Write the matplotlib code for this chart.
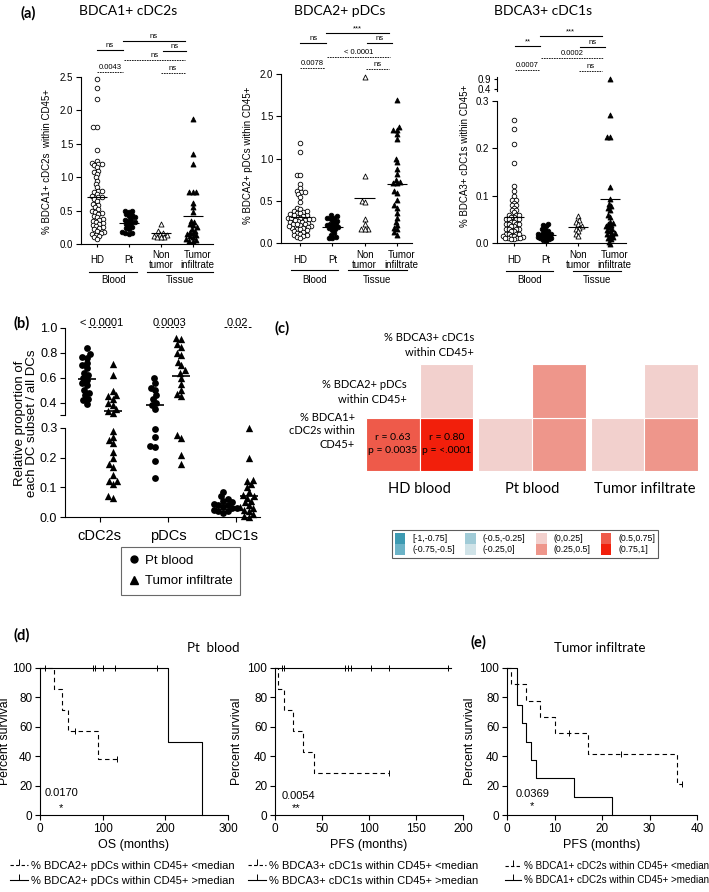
import numpy as np
import matplotlib
matplotlib.use("Agg")
import matplotlib.pyplot as plt
from matplotlib import transforms
from matplotlib.patches import Rectangle, Patch
from matplotlib.lines import Line2D

plt.rcParams["font.family"] = ["Liberation Sans", "DejaVu Sans"]
HF = "Lato"   # header / panel-letter font

# ── Data: panel (a) ────────────────────────────────────────────────────────────
a_cats = ["HD", "Pt", "Non\ntumor", "Tumor\ninfiltrate"]

a1_hd = [2.47, 2.33, 2.17, 1.75, 1.75, 1.40, 1.25, 1.22, 1.20, 1.20, 1.18, 1.15, 1.10,
         1.08, 1.05, 1.00, 0.95, 0.90, 0.85, 0.80, 0.80, 0.78, 0.75, 0.72, 0.70, 0.70,
         0.68, 0.65, 0.60, 0.58, 0.55, 0.52, 0.50, 0.48, 0.46, 0.45, 0.42, 0.40, 0.38,
         0.36, 0.35, 0.33, 0.32, 0.30, 0.28, 0.27, 0.25, 0.24, 0.22, 0.20, 0.18, 0.17,
         0.15, 0.14, 0.12, 0.10, 0.08]
a1_pt = [0.50, 0.50, 0.48, 0.45, 0.44, 0.42, 0.40, 0.38, 0.36, 0.35, 0.33, 0.32, 0.30,
         0.28, 0.25, 0.24, 0.22, 0.18, 0.16, 0.16, 0.15]
a1_non = [0.30, 0.20, 0.17, 0.15, 0.14, 0.12, 0.11, 0.10, 0.10]
a1_tum = [1.87, 1.35, 1.20, 0.78, 0.78, 0.78, 0.62, 0.55, 0.48, 0.35, 0.33, 0.30, 0.28,
          0.25, 0.22, 0.20, 0.18, 0.16, 0.15, 0.13, 0.12, 0.10, 0.08, 0.06, 0.05, 0.04]
a1_mean = [0.71, 0.32, 0.16, 0.42]
a1_lbl = ["ns", "ns", "ns", "ns", "0.0043", "ns"]

a2_hd = [1.18, 1.08, 0.81, 0.81, 0.70, 0.65, 0.62, 0.60, 0.60, 0.58, 0.55, 0.48, 0.42,
         0.40, 0.38, 0.37, 0.36, 0.35, 0.34, 0.33, 0.32, 0.31, 0.30, 0.30, 0.29, 0.28,
         0.27, 0.26, 0.25, 0.25, 0.24, 0.23, 0.22, 0.21, 0.20, 0.19, 0.18, 0.18, 0.17,
         0.16, 0.15, 0.14, 0.13, 0.12, 0.11, 0.10, 0.09, 0.08, 0.07, 0.06, 0.20, 0.27,
         0.33, 0.38, 0.22, 0.28]
a2_pt = [0.33, 0.32, 0.30, 0.30, 0.28, 0.26, 0.25, 0.23, 0.22, 0.21, 0.20, 0.19, 0.18,
         0.17, 0.15, 0.12, 0.10, 0.07, 0.06, 0.06]
a2_non = [1.97, 0.79, 0.50, 0.48, 0.28, 0.22, 0.17, 0.16, 0.16]
a2_tum = [1.69, 1.37, 1.34, 1.34, 1.29, 1.23, 1.00, 0.96, 0.87, 0.82, 0.75, 0.72, 0.71,
          0.71, 0.62, 0.59, 0.51, 0.45, 0.42, 0.35, 0.30, 0.25, 0.21, 0.18, 0.16, 0.13,
          0.10]
a2_mean = [0.31, 0.19, 0.53, 0.70]
a2_lbl = ["ns", "***", "ns", "< 0.0001", "0.0078", "ns"]

a3_hd = [0.26, 0.24, 0.21, 0.17, 0.12, 0.11, 0.10, 0.09, 0.09, 0.085, 0.08, 0.08, 0.075,
         0.07, 0.07, 0.065, 0.06, 0.06, 0.06, 0.055, 0.055, 0.05, 0.05, 0.05, 0.05,
         0.045, 0.045, 0.04, 0.04, 0.04, 0.04, 0.035, 0.035, 0.03, 0.03, 0.03, 0.03,
         0.025, 0.025, 0.02, 0.02, 0.02, 0.02, 0.015, 0.015, 0.015, 0.012, 0.01, 0.01,
         0.01, 0.01, 0.008, 0.008]
a3_pt = [0.04, 0.038, 0.035, 0.03, 0.028, 0.025, 0.022, 0.02, 0.02, 0.018, 0.017, 0.015,
         0.015, 0.013, 0.012, 0.01, 0.01, 0.008, 0.007, 0.005]
a3_non = [0.056, 0.048, 0.045, 0.04, 0.035, 0.032, 0.03, 0.025, 0.02, 0.015]
a3_tum = [0.90, 0.27, 0.225, 0.225, 0.118, 0.093, 0.083, 0.078, 0.075, 0.07, 0.06, 0.055,
          0.045, 0.043, 0.04, 0.038, 0.035, 0.033, 0.03, 0.028, 0.025, 0.022, 0.02,
          0.018, 0.015, 0.012, 0.01, 0.008, 0.003, -0.003]
a3_mean = [0.055, 0.017, 0.033, 0.094]
a3_lbl = ["**", "***", "ns", "0.0002", "0.0007", "ns"]

# ── Data: panel (b) ────────────────────────────────────────────────────────────
b_cats = ["cDC2s", "pDCs", "cDC1s"]
b_pt = [
    [0.84, 0.79, 0.77, 0.76, 0.72, 0.70, 0.68, 0.64, 0.62, 0.60, 0.58, 0.56, 0.54, 0.50,
     0.48, 0.46, 0.43, 0.42, 0.39],
    [0.60, 0.56, 0.52, 0.50, 0.46, 0.43, 0.40, 0.38, 0.35, 0.295, 0.27, 0.24, 0.235,
     0.19, 0.13],
    [0.085, 0.07, 0.06, 0.055, 0.05, 0.045, 0.04, 0.04, 0.035, 0.03, 0.03, 0.025, 0.02,
     0.02, 0.015],
]
b_tum = [
    [0.71, 0.62, 0.49, 0.46, 0.45, 0.43, 0.40, 0.38, 0.35, 0.33, 0.32, 0.29, 0.27, 0.26,
     0.25, 0.22, 0.20, 0.18, 0.17, 0.14, 0.12, 0.12, 0.11, 0.07, 0.065],
    [0.92, 0.91, 0.87, 0.85, 0.80, 0.78, 0.73, 0.70, 0.66, 0.64, 0.60, 0.55, 0.50, 0.47,
     0.45, 0.277, 0.265, 0.21, 0.18],
    [0.30, 0.20, 0.125, 0.12, 0.11, 0.10, 0.085, 0.075, 0.07, 0.065, 0.055, 0.05, 0.04,
     0.035, 0.03, 0.025, 0.02, 0.01, 0.005, 0.0],
]
b_pt_mean = [0.59, 0.38, 0.04]
b_tum_mean = [0.33, 0.61, 0.07]
b_p = ["< 0.0001", "0.0003", "0.02"]

# ── Data: panel (c) ────────────────────────────────────────────────────────────
hm_groups = ["HD blood", "Pt blood", "Tumor infiltrate"]
# r for (cDC2s vs pDCs, cDC2s vs cDC1s, pDCs vs cDC1s)
hm_r = [[0.63, 0.80, 0.20], [0.15, 0.40, 0.40], [0.15, 0.40, 0.15]]
hm_text = [["r = 0.63\np = 0.0035", "r = 0.80\np = <.0001", ""], ["", "", ""], ["", "", ""]]
bin_edges = [-1, -0.75, -0.5, -0.25, 0, 0.25, 0.5, 0.75, 1]
bin_labels = ["[-1,-0.75]", "(-0.75,-0.5]", "(-0.5,-0.25]", "(-0.25,0]",
              "(0,0.25]", "(0.25,0.5]", "(0.5,0.75]", "(0.75,1]"]
bin_colors = ["#3d9ab2", "#6cb3c7", "#a0cbd7", "#d0e3e8",
              "#f2d0cd", "#ee968b", "#ee5a4a", "#f21f0b"]

# ── Data: panels (d) and (e), Kaplan-Meier steps ─────────────────────────────
d1_lo_t = [0, 22, 35, 45, 93, 123]
d1_lo_s = [100, 85.7, 71.4, 57.1, 38.1, 38.1]
d1_lo_c = [56, 123]
d1_hi_t = [0, 205, 258]
d1_hi_s = [100, 50, 0]
d1_hi_c = [8, 85, 88, 101, 120, 186]

d2_lo_t = [0, 3, 10, 19, 30, 41, 121]
d2_lo_s = [100, 85.7, 71.4, 57.1, 42.9, 28.6, 28.6]
d2_lo_c = [121]
d2_hi_t = [0, 187]
d2_hi_s = [100, 100]
d2_hi_c = [7, 10, 74, 78, 81, 102, 121, 184]

e_lo_t = [0, 0.9, 4.1, 6.9, 10, 17, 35.8, 36.8]
e_lo_s = [100, 88.9, 77.8, 66.7, 55.6, 41.7, 20.8, 20.8]
e_lo_c = [13, 24, 36.8]
e_hi_t = [0, 2.1, 3.2, 4.1, 5.05, 6.0, 14, 22]
e_hi_s = [100, 75, 62.5, 50, 37.5, 25, 12.5, 0]
e_hi_c = []

# ── Figure helpers ─────────────────────────────────────────────────────────────
W, H = 709, 892
fig = plt.figure(figsize=(W / 100, H / 100), dpi=100, facecolor="white")


def fy(py):
    return 1 - py / H


def fx(px):
    return px / W


def add_ax(l, t, r, b):
    return fig.add_axes([l / W, 1 - b / H, (r - l) / W, (b - t) / H])


def blend(ax):
    return transforms.blended_transform_factory(ax.transData, fig.transFigure)


def swarm(vals, xsc, ysc, d):
    """Deterministic beeswarm offsets (data units), xsc/ysc in px per unit."""
    vals = np.asarray(vals, float)
    off = np.zeros(len(vals))
    placed = []
    for i in np.argsort(vals):
        y = vals[i] * ysc
        ivs = []
        for px, py in placed:
            dy = abs(y - py)
            if dy < d:
                w = np.sqrt(d * d - dy * dy)
                ivs.append((px - w, px + w))
        cands = sorted([0.0] + [e for iv in ivs for e in iv], key=abs)
        for c in cands:
            if all(not (lo + 1e-6 < c < hi - 1e-6) for lo, hi in ivs):
                break
        placed.append((c, y))
        off[i] = c
    return off / xsc


def px_scale(ax):
    bb = ax.get_position()
    x0, x1 = ax.get_xlim()
    y0, y1 = ax.get_ylim()
    return bb.width * W / (x1 - x0), bb.height * H / (y1 - y0)


def style(ax, left=True, bottom=True):
    for s in ["top", "right"]:
        ax.spines[s].set_visible(False)
    ax.spines["left"].set_visible(left)
    ax.spines["bottom"].set_visible(bottom)
    for s in ax.spines.values():
        s.set_linewidth(0.8)
    ax.tick_params(direction="out", width=0.8, length=3.5, pad=2)
    ax.set_facecolor("none")


# ── Panel (a) ─────────────────────────────────────────────────────────────────
a_styles = [("o", "white", 11), ("o", "black", 11), ("^", "white", 13), ("^", "black", 13)]


def dot_groups(ax, groups, means, lo=-np.inf, hi=np.inf, d=3.6, mean_w=0.32):
    xsc, ysc = px_scale(ax)
    for i, (vals, (mk, fc, sz)) in enumerate(zip(groups, a_styles)):
        v = np.array([x for x in vals if lo <= x <= hi])
        if len(v) == 0:
            continue
        xs = i + swarm(v, xsc, ysc, d)
        ax.scatter(xs, v, marker=mk, s=sz, facecolor=fc, edgecolor="black",
                   linewidth=0.6, clip_on=False, zorder=3)
    for i, m in enumerate(means):
        if lo <= m <= hi:
            ax.hlines(m, i - mean_w, i + mean_w, color="black", lw=0.8, zorder=4)


def brackets(ax, labels, xs, ys, dashed):
    tr = blend(ax)
    for lbl, (x0, x1), y, dsh in zip(labels, xs, ys, dashed):
        ax.plot([x0, x1], [fy(y), fy(y)], transform=tr, color="black", clip_on=False,
                lw=0.6 if dsh else 0.8, ls=(0, (2, 1)) if dsh else "-")
        ax.text((x0 + x1) / 2, fy(y - 0.8), lbl, transform=tr, ha="center", va="bottom",
                fontsize=5.5)


def cat_labels(ax, blood_x, tissue_x, line_y):
    tr = blend(ax)
    for i, c in enumerate(a_cats):
        ax.text(i + (0.15 if i == 3 else 0), fy(260), c, transform=tr, ha="center",
                va="center", fontsize=7, linespacing=1.1)
    for (x0, x1), name in [(blood_x, "Blood"), (tissue_x, "Tissue")]:
        ax.plot([x0, x1], [fy(line_y), fy(line_y)], transform=tr, color="black",
                lw=0.8, clip_on=False)
        ax.text((x0 + x1) / 2, fy(280), name, transform=tr, ha="center", va="center",
                fontsize=7)


sig_dashed = [False, False, False, True, True, True]

# a1
ax1 = add_ax(81, 77, 213, 244)
ax1.set_xlim(-0.5, 3.63)
ax1.set_ylim(0, 2.5)
style(ax1)
ax1.set_yticks(np.arange(0, 2.51, 0.5))
ax1.set_yticklabels([f"{v:.1f}" for v in np.arange(0, 2.51, 0.5)], fontsize=7)
ax1.set_xticks(range(4))
ax1.set_xticklabels([])
ax1.tick_params(axis="x", length=2.5)
dot_groups(ax1, [a1_hd, a1_pt, a1_non, a1_tum], a1_mean)
brackets(ax1, a1_lbl, [(0, 0.8), (0.8, 2.75), (2.05, 2.8), (0.85, 2.75), (0, 0.8), (2.0, 2.75)],
         [50, 41, 51, 60, 72, 73], sig_dashed)
cat_labels(ax1, (-0.24, 1.26), (1.57, 3.63), 272)
fig.text(fx(47), fy(162), "% BDCA1+ cDC2s  within CD45+", rotation=90, ha="center",
         va="center", fontsize=7)
fig.text(fx(128), fy(11), "BDCA1+ cDC2s", family=HF, fontsize=10, ha="center", va="center")
fig.text(fx(28), fy(13), "(a)", family=HF, fontsize=10.5, weight="bold", ha="center", va="center")

# a2
ax2 = add_ax(281, 74, 412, 243)
ax2.set_xlim(-0.6, 3.47)
ax2.set_ylim(0, 2.0)
style(ax2)
ax2.set_yticks(np.arange(0, 2.01, 0.5))
ax2.set_yticklabels([f"{v:.1f}" for v in np.arange(0, 2.01, 0.5)], fontsize=7)
ax2.set_xticks(range(4))
ax2.set_xticklabels([])
ax2.tick_params(axis="x", length=2.5)
dot_groups(ax2, [a2_hd, a2_pt, a2_non, a2_tum], a2_mean)
brackets(ax2, a2_lbl, [(0, 0.8), (0.8, 2.74), (2.07, 2.86), (0.82, 2.79), (0, 0.77), (2.05, 2.74)],
         [43, 33, 43, 57, 68, 69], sig_dashed)
cat_labels(ax2, (-0.28, 1.18), (1.49, 3.3), 270)
fig.text(fx(248), fy(155), "% BDCA2+ pDCs within CD45+", rotation=90, ha="center",
         va="center", fontsize=7)
fig.text(fx(340), fy(11), "BDCA2+ pDCs", family=HF, fontsize=10, ha="center", va="center")

# a3 (broken axis)
ax3 = add_ax(497, 101, 626, 243)
ax3.set_xlim(-0.53, 3.5)
ax3.set_ylim(0, 0.3)
style(ax3)
ax3.set_yticks([0, 0.1, 0.2, 0.3])
ax3.set_yticklabels(["0.0", "0.1", "0.2", "0.3"], fontsize=7)
ax3.set_xticks(range(4))
ax3.set_xticklabels([])
ax3.tick_params(axis="x", length=2.5)
dot_groups(ax3, [a3_hd, a3_pt, a3_non, a3_tum], a3_mean, hi=0.3, d=3.0)
ax3u = add_ax(497, 77, 626, 91)
ax3u.set_xlim(-0.53, 3.5)
ax3u.set_ylim(0.3, 1.0)
style(ax3u, bottom=False)
ax3u.set_xticks([])
ax3u.set_yticks([0.4, 0.9])
ax3u.set_yticklabels(["0.4", "0.9"], fontsize=7)
ax3u.tick_params(axis="y", length=2.5, pad=1.5)
dot_groups(ax3u, [a3_hd, a3_pt, a3_non, a3_tum], [], lo=0.35, d=3.0)
brackets(ax3, a3_lbl, [(0.03, 0.81), (0.81, 2.74), (2.06, 2.84), (0.86, 2.77), (0.03, 0.78), (2.03, 2.74)],
         [46, 36, 47, 58, 70, 71], sig_dashed)
cat_labels(ax3, (-0.25, 1.22), (1.84, 3.33), 271)
fig.text(fx(465), fy(156), "% BDCA3+ cDC1s within CD45+", rotation=90, ha="center",
         va="center", fontsize=7)
fig.text(fx(543), fy(11), "BDCA3+ cDC1s", family=HF, fontsize=10, ha="center", va="center")

# ── Panel (b) ─────────────────────────────────────────────────────────────────
bu = add_ax(65, 328, 260, 415)
bl = add_ax(65, 428, 260, 517)
for ax, lim in [(bu, (0.3, 1.0)), (bl, (0, 0.3))]:
    ax.set_xlim(-0.51, 2.35)
    ax.set_ylim(*lim)
style(bu, bottom=False)
style(bl)
bu.set_xticks([])
bu.set_yticks([0.3, 0.4, 0.6, 0.8, 1.0])
bu.set_yticklabels(["", "0.4", "0.6", "0.8", "1.0"], fontsize=9)
bl.set_yticks([0, 0.1, 0.2, 0.3])
bl.set_yticklabels(["0.0", "0.1", "0.2", "0.3"], fontsize=9)
bl.set_xticks(range(3))
bl.set_xticklabels(b_cats, fontsize=10.5)
bl.tick_params(axis="x", pad=5)

b_off = 0.19
for ax, lo, hi in [(bu, 0.305, 1.0), (bl, -0.01, 0.3)]:
    xsc, ysc = px_scale(ax)
    for i in range(3):
        for vals, mean, sgn, mk, sz in [(b_pt[i], b_pt_mean[i], -1, "o", 24),
                                         (b_tum[i], b_tum_mean[i], 1, "^", 28)]:
            v = np.array([x for x in vals if lo <= x <= hi])
            if len(v):
                xs = i + sgn * b_off + swarm(v, xsc, ysc, 5.0)
                ax.scatter(xs, v, marker=mk, s=sz, color="black", lw=0, clip_on=False, zorder=3)
            if lo <= mean <= hi:
                ax.hlines(mean, i + sgn * b_off - 0.13, i + sgn * b_off + 0.13,
                          color="black", lw=1.2, zorder=4)

trb = blend(bl)
for i, p in enumerate(b_p):
    bl.plot([i - 0.18, i + 0.22], [fy(327), fy(327)], transform=trb, color="black",
            lw=0.7, ls=(0, (3, 2)), clip_on=False)
    bl.text(i + 0.02, fy(328), p, transform=trb, ha="center", va="bottom", fontsize=8)
fig.text(fx(26), fy(423), "Relative proportion of\neach DC subset / all DCs", rotation=90,
         ha="center", va="center", fontsize=9.5, linespacing=1.05)
fig.text(fx(22), fy(323), "(b)", family=HF, fontsize=10.5, weight="bold", ha="center", va="center")
b_handles = [Line2D([], [], ls="none", marker="o", ms=5, color="black"),
             Line2D([], [], ls="none", marker="^", ms=5.5, color="black")]
fig.legend(b_handles, ["Pt blood", "Tumor infiltrate"], loc="center",
           bbox_to_anchor=(fx(180.5), fy(571)), fontsize=9.5, frameon=True, fancybox=False,
           edgecolor="#444444", handlelength=0.8, handletextpad=0.4, borderpad=0.6,
           labelspacing=0.6).get_frame().set_linewidth(0.8)

# ── Panel (c) ─────────────────────────────────────────────────────────────────
axc = add_ax(366, 364, 698, 471)
axc.set_xlim(0, 6.2)
axc.set_ylim(0, 2)
axc.axis("off")
cell_pos = [(0, 0), (1, 0), (1, 1)]
for g, name in enumerate(hm_groups):
    gx = g * 2.1
    for k, (cx, cy) in enumerate(cell_pos):
        r = hm_r[g][k]
        col = bin_colors[min(np.searchsorted(bin_edges, r, side="left") - 1, 7)]
        axc.add_patch(Rectangle((gx + cx, cy), 1, 1, facecolor=col, edgecolor="white", lw=0.8))
        if hm_text[g][k]:
            axc.text(gx + cx + 0.5, cy + 0.5, hm_text[g][k], ha="center", va="center",
                     family=HF, fontsize=7.5, linespacing=1.5)
    axc.text(gx + 1, fy(489), name, transform=blend(axc), ha="center", va="center",
             family=HF, fontsize=10.5)
fig.text(fx(474), fy(345), "% BDCA3+ cDC1s\nwithin CD45+", ha="right", va="center",
         family=HF, fontsize=8, multialignment="right", linespacing=1.35)
fig.text(fx(407), fy(392), "% BDCA2+ pDCs\nwithin CD45+", ha="right", va="center",
         family=HF, fontsize=8, multialignment="right", linespacing=1.35)
fig.text(fx(355), fy(431), "% BDCA1+\ncDC2s within\nCD45+", ha="right", va="center",
         family=HF, fontsize=8, multialignment="right", linespacing=1.3)
fig.text(fx(282), fy(328), "(c)", family=HF, fontsize=10.5, weight="bold", ha="center", va="center")
c_handles = [Patch(facecolor=c, edgecolor="none") for c in bin_colors]
leg_c = fig.legend(c_handles, bin_labels, loc="center", bbox_to_anchor=(fx(525), fy(544)),
                   ncol=4, fontsize=6.3, frameon=True, fancybox=False, edgecolor="#333333",
                   handlelength=1.2, handleheight=1.55, handletextpad=0.8, labelspacing=0,
                   columnspacing=1.2, borderpad=0.35)
leg_c.get_frame().set_linewidth(0.8)


# ── Panels (d) and (e) ────────────────────────────────────────────────────────
def km(ax, t, s, cens, dashed):
    ls = (0, (4, 3)) if dashed else "-"
    ax.step(t, s, where="post", color="black", lw=0.8, ls=ls, clip_on=False)
    if cens:
        cs = [s[np.searchsorted(t, c, side="right") - 1] for c in cens]
        ax.plot(cens, cs, ls="none", marker="|", ms=4, mew=0.7, color="black", clip_on=False)


def km_axes(l, r, xmax, xstep, xlabel, lab_px):
    ax = add_ax(l, 668, r, 815)
    ax.set_xlim(0, xmax)
    ax.set_ylim(0, 100)
    style(ax)
    ax.set_xticks(np.arange(0, xmax + 1, xstep))
    ax.set_yticks(np.arange(0, 101, 20))
    ax.tick_params(labelsize=8.5)
    ax.set_xlabel(xlabel, fontsize=9, labelpad=3)
    ax.set_ylabel("Percent survival", fontsize=8.8)
    ax.yaxis.set_label_coords((lab_px - l) / (r - l), 0.5)
    return ax


def km_legend(ax, name, x0, fs):
    hs = [Line2D([], [], color="black", lw=0.8, ls=(0, (3, 2)), marker=2, ms=4, mew=0.7),
          Line2D([], [], color="black", lw=0.8, ls="-", marker=2, ms=4, mew=0.7)]
    ax.legend(hs, [f"% {name} within CD45+ <median", f"% {name} within CD45+ >median"],
              loc="upper left", bbox_to_anchor=(fx(x0), fy(861)), bbox_transform=fig.transFigure,
              frameon=False, fontsize=fs, handlelength=1.6, handletextpad=0.3,
              labelspacing=0.45, borderpad=0, borderaxespad=0)


d1 = km_axes(40, 228, 300, 100, "OS (months)", 11)
km(d1, d1_lo_t, d1_lo_s, d1_lo_c, True)
km(d1, d1_hi_t, d1_hi_s, d1_hi_c, False)
d1.text(35, 15, "0.0170", ha="center", va="center", fontsize=8)
d1.text(33, 5, "*", ha="center", va="center", fontsize=8)
km_legend(d1, "BDCA2+ pDCs", 10, 8)

d2 = km_axes(275, 463, 200, 50, "PFS (months)", 243)
km(d2, d2_lo_t, d2_lo_s, d2_lo_c, True)
km(d2, d2_hi_t, d2_hi_s, d2_hi_c, False)
d2.text(25, 13, "0.0054", ha="center", va="center", fontsize=8)
d2.text(22, 5, "**", ha="center", va="center", fontsize=8)
km_legend(d2, "BDCA3+ cDC1s", 248, 8)

e1 = km_axes(507, 697, 40, 10, "PFS (months)", 476)
km(e1, e_lo_t, e_lo_s, e_lo_c, True)
km(e1, e_hi_t, e_hi_s, e_hi_c, False)
e1.text(5.3, 14, "0.0369", ha="center", va="center", fontsize=8)
e1.text(5.3, 6, "*", ha="center", va="center", fontsize=8)
km_legend(e1, "BDCA1+ cDC2s", 505, 7.1)

fig.text(fx(22), fy(635), "(d)", family=HF, fontsize=10.5, weight="bold", ha="center", va="center")
fig.text(fx(213), fy(648), "Pt  blood", family=HF, fontsize=9.5, ha="center", va="center")
fig.text(fx(478), fy(642), "(e)", family=HF, fontsize=10.5, weight="bold", ha="center", va="center")
fig.text(fx(600), fy(648), "Tumor infiltrate", family=HF, fontsize=9.5, ha="center", va="center")

fig.savefig("out.png", dpi=100, facecolor="white")
